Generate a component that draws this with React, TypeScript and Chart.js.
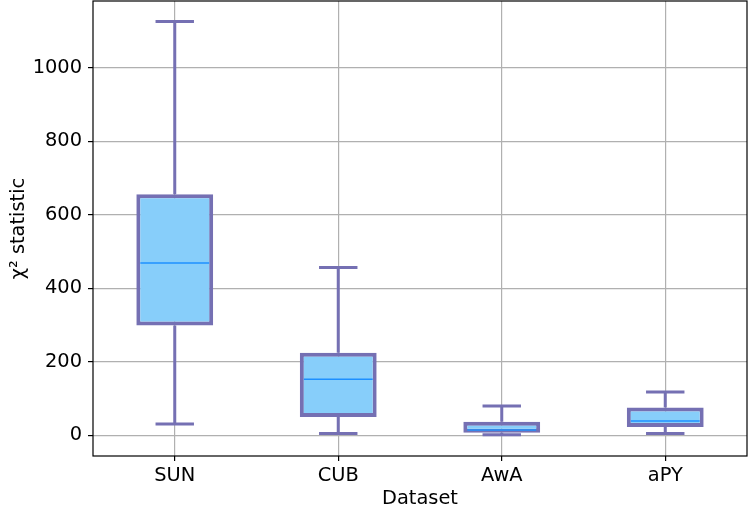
import { useEffect, useRef } from "react";
import { Chart, ChartConfiguration, Plugin, registerables } from "chart.js";

Chart.register(...registerables);

const categories = ["SUN", "CUB", "AwA", "aPY"];
const whiskerLow = [31, 5, 2, 5];
const q1 = [299, 50, 7, 23];
const median = [469, 153, 15, 39];
const q3 = [656, 225, 37, 76];
const whiskerHigh = [1126, 457, 80, 118];
const yTicks = [0, 200, 400, 600, 800, 1000];

const FONT = "'DejaVu Sans', sans-serif";
const BOX_LINE = "#7570b3";
const BOX_FILL = "#87cefa";
const MEDIAN_LINE = "#1e90ff";

// whiskers, caps, medians and the full axes frame
const boxExtras: Plugin = {
  id: "boxExtras",
  afterDatasetsDraw(chart) {
    const { ctx, chartArea, scales } = chart;
    const x = scales.x;
    const y = scales.y;
    const catWidth = (chartArea.right - chartArea.left) / categories.length;
    const boxWidth = catWidth * 0.47;
    const capWidth = boxWidth * 0.5;

    ctx.save();
    ctx.lineCap = "butt";
    categories.forEach((_, i) => {
      const cx = x.getPixelForValue(i);
      ctx.strokeStyle = BOX_LINE;
      ctx.lineWidth = 3;
      ctx.beginPath();
      ctx.moveTo(cx, y.getPixelForValue(q3[i]));
      ctx.lineTo(cx, y.getPixelForValue(whiskerHigh[i]));
      ctx.moveTo(cx, y.getPixelForValue(q1[i]));
      ctx.lineTo(cx, y.getPixelForValue(whiskerLow[i]));
      ctx.stroke();

      ctx.beginPath();
      [whiskerHigh[i], whiskerLow[i]].forEach((v) => {
        const py = y.getPixelForValue(v);
        ctx.moveTo(cx - capWidth / 2, py);
        ctx.lineTo(cx + capWidth / 2, py);
      });
      ctx.stroke();

      ctx.strokeStyle = MEDIAN_LINE;
      ctx.lineWidth = 1.5;
      const my = y.getPixelForValue(median[i]);
      ctx.beginPath();
      ctx.moveTo(cx - boxWidth / 2 + 4, my);
      ctx.lineTo(cx + boxWidth / 2 - 4, my);
      ctx.stroke();
    });

    ctx.strokeStyle = "#000";
    ctx.lineWidth = 1.2;
    ctx.strokeRect(
      chartArea.left,
      chartArea.top,
      chartArea.right - chartArea.left,
      chartArea.bottom - chartArea.top
    );
    ctx.restore();
  },
};

export default function App() {
  const canvasRef = useRef<HTMLCanvasElement>(null);

  useEffect(() => {
    if (!canvasRef.current) return;
    const ctx = canvasRef.current.getContext("2d");
    if (!ctx) return;

    const config: ChartConfiguration = {
      type: "bar",
      data: {
        labels: categories,
        datasets: [
          {
            data: categories.map((_, i) => [q1[i], q3[i]]) as any,
            backgroundColor: BOX_FILL,
            borderColor: BOX_LINE,
            borderWidth: 4,
            borderSkipped: false,
            categoryPercentage: 1,
            barPercentage: 0.47,
          },
        ],
      },
      options: {
        animation: false,
        responsive: true,
        maintainAspectRatio: false,
        layout: { padding: { top: 1, right: 1, left: 0, bottom: 0 } },
        plugins: {
          legend: { display: false },
          tooltip: { enabled: false },
        },
        scales: {
          x: {
            grid: {
              offset: false,
              color: "#b0b0b0",
              lineWidth: 1.2,
              tickColor: "#000",
              tickLength: 5,
            },
            border: { display: false },
            ticks: { color: "#000", padding: 3, font: { family: FONT, size: 19.4 } },
            title: {
              display: true,
              text: "Dataset",
              color: "#000",
              padding: { top: 0, bottom: 2 },
              font: { family: FONT, size: 19.4 },
            },
            afterFit: (s: any) => {
              s.height = 57;
              s.paddingLeft = 0;
              s.paddingRight = 0;
            },
          },
          y: {
            min: -56,
            max: 1182,
            afterBuildTicks: (s: any) => {
              s.ticks = yTicks.map((v) => ({ value: v }));
            },
            grid: {
              color: "#b0b0b0",
              lineWidth: 1.2,
              tickColor: "#000",
              tickLength: 5,
            },
            border: { display: false },
            ticks: {
              color: "#000",
              padding: 6,
              font: { family: FONT, size: 19.4 },
              callback: (v: any) => String(v),
            },
            title: {
              display: true,
              text: "χ² statistic",
              color: "#000",
              padding: { top: 7, bottom: 0 },
              font: { family: FONT, size: 19.4 },
            },
            afterFit: (s: any) => {
              s.width = 93;
              s.paddingTop = 0;
              s.paddingBottom = 0;
            },
          },
        },
      },
      plugins: [boxExtras],
    };

    const chart = new Chart(ctx, config);
    return () => chart.destroy();
  }, []);

  return (
    <div style={{ position: "fixed", left: 0, top: 0, width: 748, height: 513, background: "#fff" }}>
      <canvas ref={canvasRef} />
    </div>
  );
}
